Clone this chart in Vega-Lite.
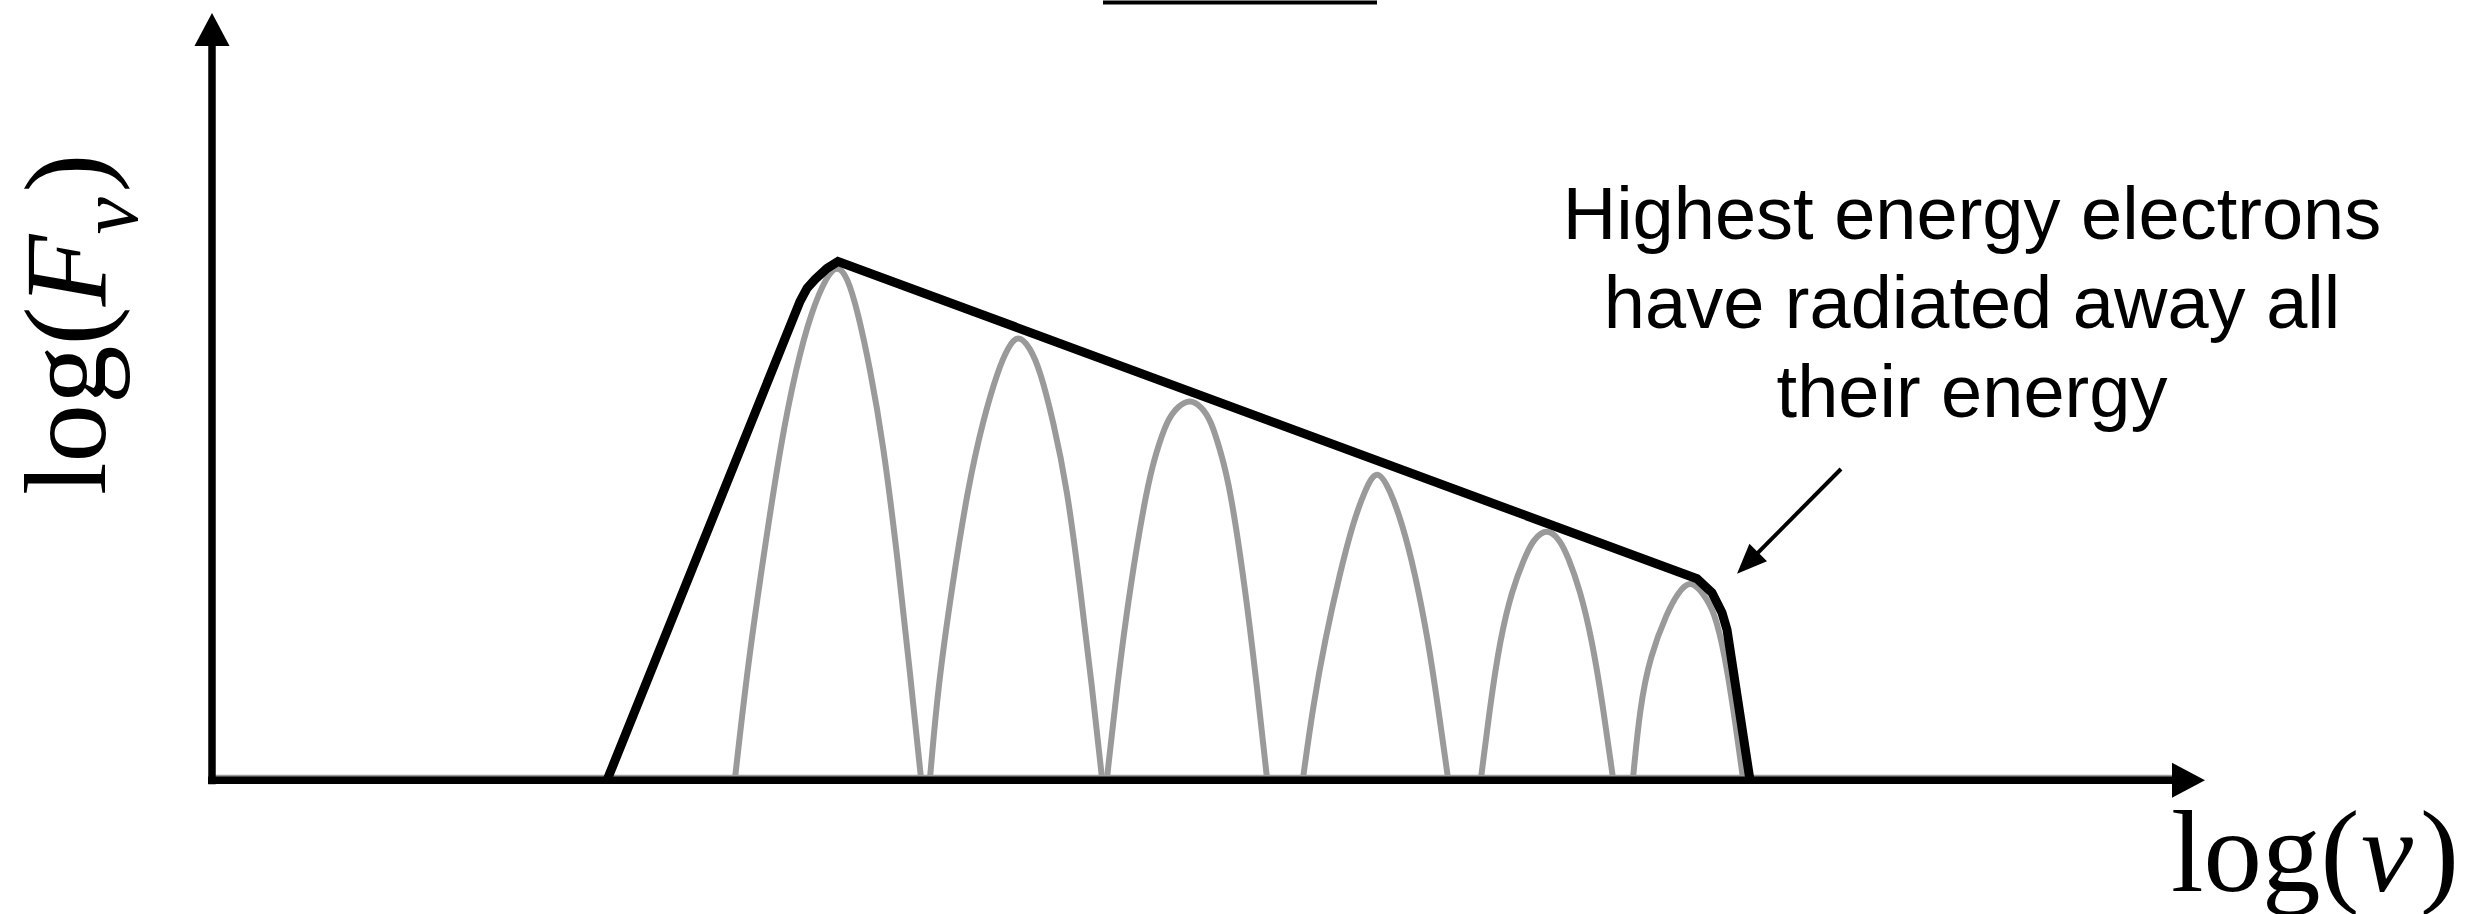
{
  "$schema": "https://vega.github.io/schema/vega-lite/v6.json",
  "width": 2488,
  "height": 914,
  "autosize": {"type": "fit", "contains": "padding"},
  "padding": 0,
  "background": "white",
  "config": {"view": {"stroke": null}},
  "datasets": {
    "electrons": [
      {"curve": 1, "x": 735, "y": 779}, {"curve": 1, "x": 748, "y": 664}, {"curve": 1, "x": 764, "y": 553}, {"curve": 1, "x": 781, "y": 442}, {"curve": 1, "x": 796, "y": 368}, {"curve": 1, "x": 811, "y": 312}, {"curve": 1, "x": 827, "y": 275}, {"curve": 1, "x": 837, "y": 265}, {"curve": 1, "x": 847, "y": 275}, {"curve": 1, "x": 858, "y": 312}, {"curve": 1, "x": 870, "y": 368}, {"curve": 1, "x": 883, "y": 442}, {"curve": 1, "x": 897, "y": 553}, {"curve": 1, "x": 909, "y": 664}, {"curve": 1, "x": 921, "y": 779},
      {"curve": 2, "x": 930, "y": 779}, {"curve": 2, "x": 938, "y": 687}, {"curve": 2, "x": 952, "y": 587}, {"curve": 2, "x": 968, "y": 487}, {"curve": 2, "x": 983, "y": 420}, {"curve": 2, "x": 998, "y": 370}, {"curve": 2, "x": 1008, "y": 347}, {"curve": 2, "x": 1018, "y": 334}, {"curve": 2, "x": 1030, "y": 347}, {"curve": 2, "x": 1040, "y": 370}, {"curve": 2, "x": 1053, "y": 420}, {"curve": 2, "x": 1067, "y": 487}, {"curve": 2, "x": 1080, "y": 587}, {"curve": 2, "x": 1092, "y": 687}, {"curve": 2, "x": 1102, "y": 779},
      {"curve": 3, "x": 1107, "y": 779}, {"curve": 3, "x": 1117, "y": 687}, {"curve": 3, "x": 1130, "y": 587}, {"curve": 3, "x": 1147, "y": 487}, {"curve": 3, "x": 1156, "y": 453}, {"curve": 3, "x": 1167, "y": 420}, {"curve": 3, "x": 1178, "y": 406}, {"curve": 3, "x": 1190, "y": 399}, {"curve": 3, "x": 1201, "y": 406}, {"curve": 3, "x": 1211, "y": 420}, {"curve": 3, "x": 1221, "y": 453}, {"curve": 3, "x": 1230, "y": 487}, {"curve": 3, "x": 1245, "y": 587}, {"curve": 3, "x": 1257, "y": 687}, {"curve": 3, "x": 1267, "y": 779},
      {"curve": 4, "x": 1303, "y": 779}, {"curve": 4, "x": 1313, "y": 707}, {"curve": 4, "x": 1325, "y": 640}, {"curve": 4, "x": 1340, "y": 573}, {"curve": 4, "x": 1353, "y": 523}, {"curve": 4, "x": 1365, "y": 490}, {"curve": 4, "x": 1377, "y": 467}, {"curve": 4, "x": 1390, "y": 490}, {"curve": 4, "x": 1402, "y": 523}, {"curve": 4, "x": 1415, "y": 573}, {"curve": 4, "x": 1428, "y": 640}, {"curve": 4, "x": 1438, "y": 707}, {"curve": 4, "x": 1448, "y": 779},
      {"curve": 5, "x": 1481, "y": 779}, {"curve": 5, "x": 1490, "y": 707}, {"curve": 5, "x": 1500, "y": 640}, {"curve": 5, "x": 1512, "y": 590}, {"curve": 5, "x": 1525, "y": 557}, {"curve": 5, "x": 1533, "y": 540}, {"curve": 5, "x": 1547, "y": 528}, {"curve": 5, "x": 1560, "y": 540}, {"curve": 5, "x": 1568, "y": 557}, {"curve": 5, "x": 1580, "y": 590}, {"curve": 5, "x": 1592, "y": 640}, {"curve": 5, "x": 1603, "y": 707}, {"curve": 5, "x": 1613, "y": 779},
      {"curve": 6, "x": 1633, "y": 779}, {"curve": 6, "x": 1640, "y": 707}, {"curve": 6, "x": 1650, "y": 657}, {"curve": 6, "x": 1667, "y": 613}, {"curve": 6, "x": 1678, "y": 593}, {"curve": 6, "x": 1690, "y": 580}, {"curve": 6, "x": 1703, "y": 593}, {"curve": 6, "x": 1715, "y": 613}, {"curve": 6, "x": 1725, "y": 657}, {"curve": 6, "x": 1733, "y": 707}, {"curve": 6, "x": 1743, "y": 779}
    ],
    "envelope": [
      {"x": 607, "y": 781}, {"x": 800, "y": 301}, {"x": 807, "y": 288}, {"x": 815, "y": 279}, {"x": 827, "y": 268}, {"x": 838, "y": 261},
      {"x": 1697, "y": 579}, {"x": 1712, "y": 593}, {"x": 1722, "y": 613}, {"x": 1727, "y": 630}, {"x": 1750, "y": 781}
    ],
    "baseline": [{"x": 212, "x2": 2180, "y": 777, "y2": 777}],
    "axes": [
      {"x": 212, "x2": 212, "y": 44, "y2": 785},
      {"x": 208, "x2": 2178, "y": 781, "y2": 781}
    ],
    "topbar": [{"x": 1103, "x2": 1377, "y": 1.5, "y2": 1.5}],
    "yarrow": [{"x": 212, "y": 12}],
    "xarrow": [{"x": 2205, "y": 781}],
    "pointer": [{"x": 1841, "x2": 1745, "y": 469, "y2": 566}],
    "pointerhead": [{"x": 1737, "y": 574}],
    "note": [
      {"x": 1972, "y": 239, "label": "Highest energy electrons"},
      {"x": 1972, "y": 328, "label": "have radiated away all"},
      {"x": 1972, "y": 417, "label": "their energy"}
    ],
    "labelUpright": [
      {"x": 2171, "y": 892, "label": "log("},
      {"x": 2420, "y": 892, "label": ")"}
    ],
    "labelItalic": [
      {"x": 2361, "y": 892, "label": "ν"}
    ],
    "ylabelUpright": [
      {"x": 105, "y": 495, "label": "log("},
      {"x": 105, "y": 192, "label": ")"}
    ],
    "ylabelItalic": [
      {"x": 105, "y": 306, "label": "F"}
    ],
    "ylabelSub": [
      {"x": 137, "y": 234, "label": "ν"}
    ]
  },
  "layer": [
    {
      "data": {"name": "baseline"},
      "mark": {"type": "rule", "color": "#999999", "strokeWidth": 3},
      "encoding": {
        "x": {"field": "x", "type": "quantitative", "scale": {"domain": [0, 2488], "nice": false, "zero": false}, "axis": null},
        "x2": {"field": "x2"},
        "y": {"field": "y", "type": "quantitative", "scale": {"domain": [0, 914], "reverse": true, "nice": false, "zero": false}, "axis": null},
        "y2": {"field": "y2"}
      }
    },
    {
      "data": {"name": "electrons"},
      "mark": {"type": "line", "color": "#9a9a9a", "strokeWidth": 6, "interpolate": "basis"},
      "encoding": {
        "x": {"field": "x", "type": "quantitative", "scale": {"domain": [0, 2488], "nice": false, "zero": false}, "axis": null},
        "y": {"field": "y", "type": "quantitative", "scale": {"domain": [0, 914], "reverse": true, "nice": false, "zero": false}, "axis": null},
        "detail": {"field": "curve", "type": "nominal"}
      }
    },
    {
      "data": {"name": "envelope"},
      "mark": {"type": "line", "color": "black", "strokeWidth": 9, "interpolate": "linear"},
      "encoding": {
        "x": {"field": "x", "type": "quantitative", "scale": {"domain": [0, 2488], "nice": false, "zero": false}, "axis": null},
        "y": {"field": "y", "type": "quantitative", "scale": {"domain": [0, 914], "reverse": true, "nice": false, "zero": false}, "axis": null}
      }
    },
    {
      "data": {"name": "axes"},
      "mark": {"type": "rule", "color": "black", "strokeWidth": 7.5},
      "encoding": {
        "x": {"field": "x", "type": "quantitative", "scale": {"domain": [0, 2488], "nice": false, "zero": false}, "axis": null},
        "x2": {"field": "x2"},
        "y": {"field": "y", "type": "quantitative", "scale": {"domain": [0, 914], "reverse": true, "nice": false, "zero": false}, "axis": null},
        "y2": {"field": "y2"}
      }
    },
    {
      "data": {"name": "topbar"},
      "mark": {"type": "rule", "color": "black", "strokeWidth": 4},
      "encoding": {
        "x": {"field": "x", "type": "quantitative", "scale": {"domain": [0, 2488], "nice": false, "zero": false}, "axis": null},
        "x2": {"field": "x2"},
        "y": {"field": "y", "type": "quantitative", "scale": {"domain": [0, 914], "reverse": true, "nice": false, "zero": false}, "axis": null},
        "y2": {"field": "y2"}
      }
    },
    {
      "data": {"name": "yarrow"},
      "mark": {"type": "point", "shape": "M0,0L-1.17,2.2L1.17,2.2Z", "size": 900, "filled": true, "color": "black", "opacity": 1, "angle": 0},
      "encoding": {
        "x": {"field": "x", "type": "quantitative", "scale": {"domain": [0, 2488], "nice": false, "zero": false}, "axis": null},
        "y": {"field": "y", "type": "quantitative", "scale": {"domain": [0, 914], "reverse": true, "nice": false, "zero": false}, "axis": null}
      }
    },
    {
      "data": {"name": "xarrow"},
      "mark": {"type": "point", "shape": "M0,0L-1.17,2.2L1.17,2.2Z", "size": 900, "filled": true, "color": "black", "opacity": 1, "angle": 90},
      "encoding": {
        "x": {"field": "x", "type": "quantitative", "scale": {"domain": [0, 2488], "nice": false, "zero": false}, "axis": null},
        "y": {"field": "y", "type": "quantitative", "scale": {"domain": [0, 914], "reverse": true, "nice": false, "zero": false}, "axis": null}
      }
    },
    {
      "data": {"name": "pointer"},
      "mark": {"type": "rule", "color": "black", "strokeWidth": 4},
      "encoding": {
        "x": {"field": "x", "type": "quantitative", "scale": {"domain": [0, 2488], "nice": false, "zero": false}, "axis": null},
        "x2": {"field": "x2"},
        "y": {"field": "y", "type": "quantitative", "scale": {"domain": [0, 914], "reverse": true, "nice": false, "zero": false}, "axis": null},
        "y2": {"field": "y2"}
      }
    },
    {
      "data": {"name": "pointerhead"},
      "mark": {"type": "point", "shape": "M0,0L-0.83,2L0.83,2Z", "size": 900, "filled": true, "color": "black", "opacity": 1, "angle": 225},
      "encoding": {
        "x": {"field": "x", "type": "quantitative", "scale": {"domain": [0, 2488], "nice": false, "zero": false}, "axis": null},
        "y": {"field": "y", "type": "quantitative", "scale": {"domain": [0, 914], "reverse": true, "nice": false, "zero": false}, "axis": null}
      }
    },
    {
      "data": {"name": "note"},
      "mark": {"type": "text", "font": "Liberation Sans", "fontSize": 74, "color": "black", "align": "center", "baseline": "alphabetic"},
      "encoding": {
        "x": {"field": "x", "type": "quantitative", "scale": {"domain": [0, 2488], "nice": false, "zero": false}, "axis": null},
        "y": {"field": "y", "type": "quantitative", "scale": {"domain": [0, 914], "reverse": true, "nice": false, "zero": false}, "axis": null},
        "text": {"field": "label"}
      }
    },
    {
      "data": {"name": "labelUpright"},
      "mark": {"type": "text", "font": "Liberation Serif", "fontSize": 117, "color": "black", "align": "left", "baseline": "alphabetic"},
      "encoding": {
        "x": {"field": "x", "type": "quantitative", "scale": {"domain": [0, 2488], "nice": false, "zero": false}, "axis": null},
        "y": {"field": "y", "type": "quantitative", "scale": {"domain": [0, 914], "reverse": true, "nice": false, "zero": false}, "axis": null},
        "text": {"field": "label"}
      }
    },
    {
      "data": {"name": "labelItalic"},
      "mark": {"type": "text", "font": "Liberation Serif", "fontStyle": "italic", "fontSize": 117, "color": "black", "align": "left", "baseline": "alphabetic"},
      "encoding": {
        "x": {"field": "x", "type": "quantitative", "scale": {"domain": [0, 2488], "nice": false, "zero": false}, "axis": null},
        "y": {"field": "y", "type": "quantitative", "scale": {"domain": [0, 914], "reverse": true, "nice": false, "zero": false}, "axis": null},
        "text": {"field": "label"}
      }
    },
    {
      "data": {"name": "ylabelUpright"},
      "mark": {"type": "text", "font": "Liberation Serif", "fontSize": 117, "color": "black", "align": "left", "baseline": "alphabetic", "angle": 270},
      "encoding": {
        "x": {"field": "x", "type": "quantitative", "scale": {"domain": [0, 2488], "nice": false, "zero": false}, "axis": null},
        "y": {"field": "y", "type": "quantitative", "scale": {"domain": [0, 914], "reverse": true, "nice": false, "zero": false}, "axis": null},
        "text": {"field": "label"}
      }
    },
    {
      "data": {"name": "ylabelItalic"},
      "mark": {"type": "text", "font": "Liberation Serif", "fontStyle": "italic", "fontSize": 117, "color": "black", "align": "left", "baseline": "alphabetic", "angle": 270},
      "encoding": {
        "x": {"field": "x", "type": "quantitative", "scale": {"domain": [0, 2488], "nice": false, "zero": false}, "axis": null},
        "y": {"field": "y", "type": "quantitative", "scale": {"domain": [0, 914], "reverse": true, "nice": false, "zero": false}, "axis": null},
        "text": {"field": "label"}
      }
    },
    {
      "data": {"name": "ylabelSub"},
      "mark": {"type": "text", "font": "Liberation Serif", "fontStyle": "italic", "fontSize": 84, "color": "black", "align": "left", "baseline": "alphabetic", "angle": 270},
      "encoding": {
        "x": {"field": "x", "type": "quantitative", "scale": {"domain": [0, 2488], "nice": false, "zero": false}, "axis": null},
        "y": {"field": "y", "type": "quantitative", "scale": {"domain": [0, 914], "reverse": true, "nice": false, "zero": false}, "axis": null},
        "text": {"field": "label"}
      }
    }
  ]
}
